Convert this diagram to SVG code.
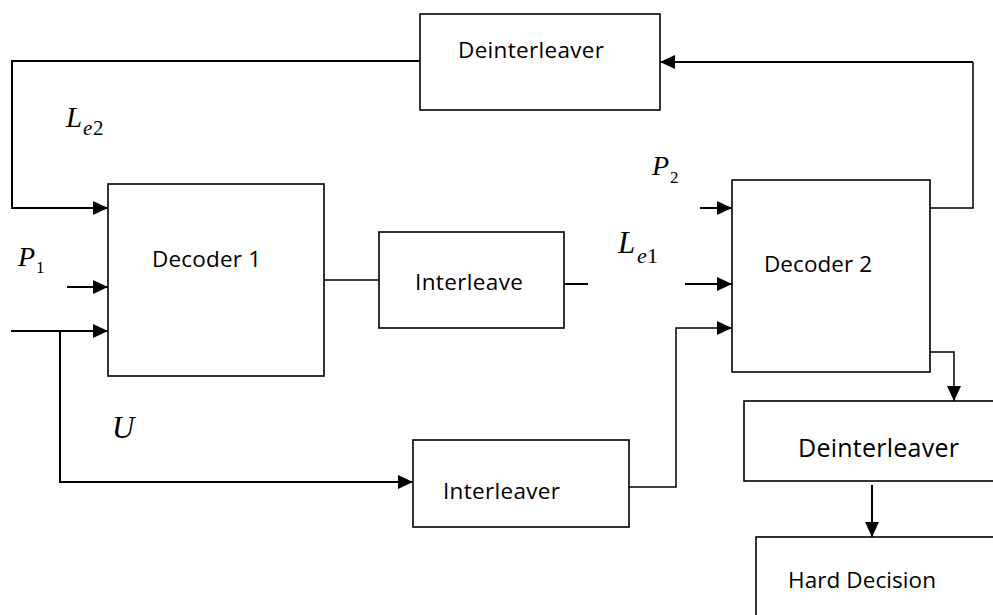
<svg xmlns="http://www.w3.org/2000/svg" width="993" height="615" viewBox="0 0 993 615">
  <style>
    .box { fill: #ffffff; stroke: #000000; stroke-width: 1.6; }
    .lbl { font-family: "Open Sans", "Liberation Sans", sans-serif; font-size: 22.5px; fill: #000000; }
    .big { font-size: 25px; }
    .math { font-family: "Liberation Serif", "Times New Roman", serif; fill: #000000; }
    .it { font-style: italic; }
    .wire { fill: none; stroke: #000000; stroke-width: 2; }
    .thin { fill: none; stroke: #000000; stroke-width: 1.5; }
  </style>
  <defs>
    <marker id="arrow" markerUnits="userSpaceOnUse" markerWidth="15" markerHeight="14" refX="15" refY="7" orient="auto">
      <path d="M0,0 L15,7 L0,14 z" fill="#000000"/>
    </marker>
  </defs>

  <rect width="993" height="615" fill="#ffffff"/>

  <!-- signal connectors -->
  <g id="connectors">
    <polyline class="wire" points="420,61 12,61 12,208 108,208" marker-end="url(#arrow)"/>
    <line class="wire" x1="67" y1="287" x2="108" y2="287" marker-end="url(#arrow)"/>
    <line class="wire" x1="11" y1="331" x2="108" y2="331" marker-end="url(#arrow)"/>
    <polyline class="wire" points="60,331 60,482 413,482" marker-end="url(#arrow)"/>
    <line class="thin" x1="324" y1="280" x2="379" y2="280"/>
    <line class="wire" x1="564" y1="284" x2="588" y2="284"/>
    <line class="wire" x1="685" y1="284" x2="732" y2="284" marker-end="url(#arrow)"/>
    <line class="wire" x1="700" y1="208" x2="732" y2="208" marker-end="url(#arrow)"/>
    <polyline class="thin" points="626,487 676,487 676,328 732,328" marker-end="url(#arrow)"/>
    <polyline class="thin" points="930,208 973,208 973,62" />
    <line class="wire" x1="973" y1="62" x2="660" y2="62" marker-end="url(#arrow)"/>
    <polyline class="thin" points="928,352 954,352 954,401" marker-end="url(#arrow)"/>
    <line class="wire" x1="872" y1="485" x2="872" y2="537" marker-end="url(#arrow)"/>
  </g>

  <g id="deinterleaver-top">
    <rect class="box" x="420" y="14" width="240" height="96"/>
    <text class="lbl" x="458" y="58" textLength="146">Deinterleaver</text>
  </g>

  <g id="decoder1">
    <rect class="box" x="108" y="184" width="216" height="192"/>
    <text class="lbl" x="152" y="267" textLength="109">Decoder 1</text>
  </g>

  <g id="interleave">
    <rect class="box" x="379" y="232" width="185" height="96"/>
    <text class="lbl" x="415" y="290" textLength="108">Interleave</text>
  </g>

  <g id="interleaver">
    <rect class="box" x="413" y="440" width="216" height="87"/>
    <text class="lbl" x="443" y="499" textLength="117">Interleaver</text>
  </g>

  <g id="decoder2">
    <rect class="box" x="732" y="180" width="198" height="192"/>
    <text class="lbl" x="764" y="272" textLength="108">Decoder 2</text>
  </g>

  <g id="deinterleaver-bottom">
    <rect class="box" x="744" y="401" width="260" height="80"/>
    <text class="lbl big" x="798" y="457" textLength="161">Deinterleaver</text>
  </g>

  <g id="hard-decision">
    <rect class="box" x="756" y="537" width="260" height="100"/>
    <text class="lbl" x="788" y="588" textLength="148">Hard Decision</text>
  </g>

  <!-- signal labels -->
  <g id="labels">
    <text class="math" font-size="29"><tspan class="it" x="66" y="127">L</tspan><tspan class="it" x="83" y="135" font-size="21">e</tspan><tspan x="93" y="135" font-size="21">2</tspan></text>
    <text class="math" font-size="28"><tspan class="it" x="18" y="266">P</tspan><tspan x="36" y="273" font-size="17">1</tspan></text>
    <text class="math" font-size="28"><tspan class="it" x="652" y="175">P</tspan><tspan x="670" y="183" font-size="17">2</tspan></text>
    <text class="math" font-size="31"><tspan class="it" x="618" y="253">L</tspan><tspan class="it" x="637" y="263" font-size="22">e</tspan><tspan x="647" y="263" font-size="22">1</tspan></text>
    <text class="math it" font-size="31" x="112" y="438">U</text>
  </g>
</svg>
